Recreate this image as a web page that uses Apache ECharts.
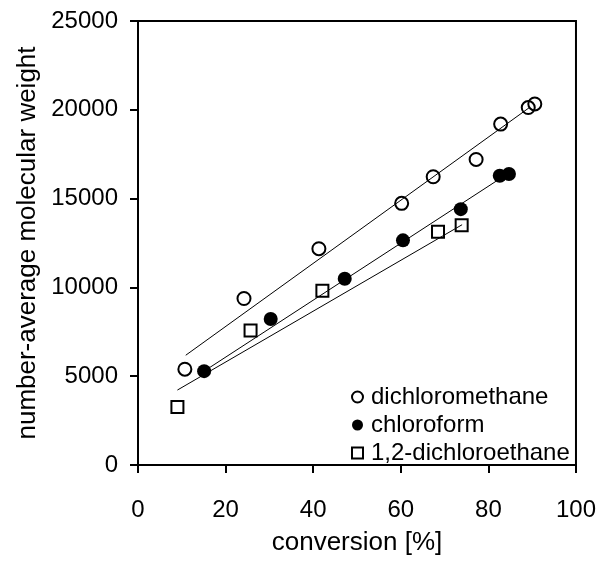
<!DOCTYPE html>
<html>
<head>
<meta charset="utf-8">
<script src="https://cdn.jsdelivr.net/npm/echarts@6/dist/echarts.min.js"></script>
<style>
  html, body { margin: 0; padding: 0; background: #fff; }
  #chart { width: 599px; height: 561px; }
</style>
</head>
<body>
<div id="chart"></div>
<script>
// measured points [conversion %, Mn]
const dichloromethane = [
  [10.7, 5395], [24.2, 9375], [41.3, 12180], [60.2, 14732], [67.4, 16230],
  [77.2, 17205], [82.8, 19196], [89.1, 20126], [90.6, 20330]
];
const chloroform = [
  [15.1, 5285], [30.3, 8222], [47.2, 10491], [60.5, 12650],
  [73.7, 14405], [82.6, 16290], [84.7, 16385]
];
const dichloroethane = [
  [9.0, 3265], [25.7, 7570], [42.1, 9805], [68.5, 13140], [73.9, 13500]
];

// fitted lines, end points
const fitDichloromethane = [[10.9, 6180], [89.5, 20150]];
const fitChloroform = [[15.1, 5285], [84.7, 16450]];
const fitDichloroethane = [[9.0, 4220], [74.0, 13530]];

const xTicks = [0, 20, 40, 60, 80, 100];
const yTicks = [0, 5000, 10000, 15000, 20000, 25000];

const FONT = 'Liberation Sans, Arial, sans-serif';
const chart = echarts.init(document.getElementById('chart'));

function fitSeries(data) {
  return {
    type: 'line',
    data,
    symbol: 'none',
    silent: true,
    z: 1,
    lineStyle: { color: '#000', width: 1 }
  };
}

chart.setOption({
  animation: false,
  textStyle: { fontFamily: FONT, color: '#000' },
  grid: {
    left: 138, right: 22, top: 21, bottom: 92,
    show: true, borderColor: '#000', borderWidth: 2
  },
  legend: {
    orient: 'vertical',
    left: 346, top: 380,
    itemWidth: 11, itemHeight: 11,
    itemGap: 4,
    data: ['dichloromethane', 'chloroform', '1,2-dichloroethane'],
    textStyle: { fontSize: 24, color: '#000', fontFamily: FONT, padding: [5, 0, 0, 3] }
  },
  xAxis: {
    type: 'value',
    min: xTicks[0], max: xTicks[xTicks.length - 1], interval: 20,
    name: 'conversion [%]',
    nameLocation: 'middle', nameGap: 65,
    nameTextStyle: { fontSize: 26, color: '#000', fontFamily: FONT },
    axisLine: { show: true, lineStyle: { color: '#000', width: 2 } },
    axisTick: { show: true, inside: false, length: 8, lineStyle: { color: '#000', width: 2 } },
    axisLabel: { fontSize: 24, color: '#000', margin: 33, fontFamily: FONT },
    splitLine: { show: false }
  },
  yAxis: {
    type: 'value',
    min: yTicks[0], max: yTicks[yTicks.length - 1], interval: 5000,
    name: 'number-average molecular weight',
    nameLocation: 'middle', nameGap: 91,
    nameTextStyle: { fontSize: 26, color: '#000', fontFamily: FONT },
    axisLine: { show: true, lineStyle: { color: '#000', width: 2 } },
    axisTick: { show: true, inside: false, length: 8, lineStyle: { color: '#000', width: 2 } },
    axisLabel: { fontSize: 24, color: '#000', margin: 20, fontFamily: FONT, formatter: v => String(v) },
    splitLine: { show: false }
  },
  series: [
    fitSeries(fitDichloromethane),
    fitSeries(fitChloroform),
    fitSeries(fitDichloroethane),
    {
      name: 'dichloromethane',
      type: 'scatter',
      data: dichloromethane,
      symbol: 'circle',
      symbolSize: 13,
      z: 3,
      itemStyle: { color: 'rgba(255,255,255,0)', borderColor: '#000', borderWidth: 2, opacity: 1 }
    },
    {
      name: 'chloroform',
      type: 'scatter',
      data: chloroform,
      symbol: 'circle',
      symbolSize: 14,
      z: 3,
      itemStyle: { color: '#000', borderColor: '#000', borderWidth: 0, opacity: 1 }
    },
    {
      name: '1,2-dichloroethane',
      type: 'scatter',
      data: dichloroethane,
      symbol: 'rect',
      symbolSize: 12,
      z: 3,
      itemStyle: { color: 'rgba(255,255,255,0)', borderColor: '#000', borderWidth: 2, opacity: 1 }
    }
  ]
});
</script>
</body>
</html>
